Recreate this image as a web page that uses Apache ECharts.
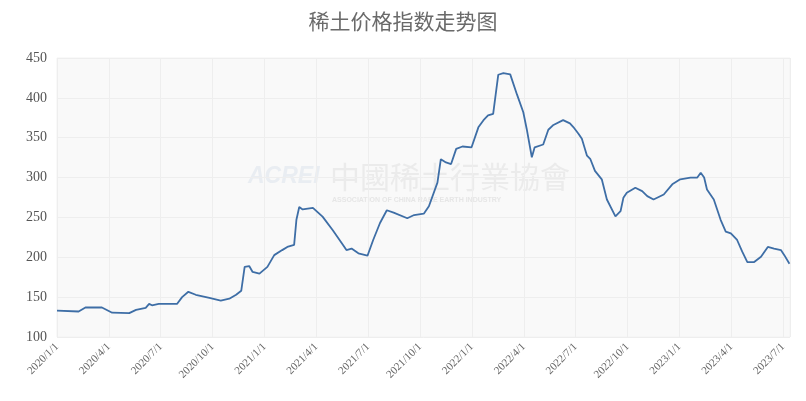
<!DOCTYPE html>
<html>
<head>
<meta charset="utf-8">
<script src="https://cdn.jsdelivr.net/npm/echarts@6/dist/echarts.min.js"></script>
<style>
html,body{margin:0;padding:0;background:#fff;}
#c{width:806px;height:401px;}
</style>
</head>
<body>
<div id="c"></div>
<script>
var titleText = '稀土价格指数走势图';
var tickLabels = ['2020/1/1','2020/4/1','2020/7/1','2020/10/1','2021/1/1','2021/4/1','2021/7/1','2021/10/1','2022/1/1','2022/4/1','2022/7/1','2022/10/1','2023/1/1','2023/4/1','2023/7/1'];
var dates = ['2020/1/1','2020/2/8','2020/2/20','2020/3/20','2020/4/7','2020/5/7','2020/5/19','2020/6/5','2020/6/11','2020/6/16','2020/6/28','2020/7/30','2020/8/8','2020/8/19','2020/9/1','2020/9/25','2020/10/15','2020/10/30','2020/11/11','2020/11/20','2020/11/26','2020/12/4','2020/12/10','2020/12/22','2021/1/5','2021/1/17','2021/1/31','2021/2/9','2021/2/21','2021/2/25','2021/3/2','2021/3/8','2021/3/26','2021/4/12','2021/4/30','2021/5/18','2021/5/24','2021/6/2','2021/6/14','2021/6/30','2021/7/10','2021/7/22','2021/8/3','2021/8/15','2021/9/8','2021/9/20','2021/10/7','2021/10/16','2021/10/31','2021/11/6','2021/11/15','2021/11/24','2021/12/3','2021/12/14','2021/12/30','2022/1/11','2022/1/20','2022/1/28','2022/2/6','2022/2/15','2022/2/24','2022/3/8','2022/3/20','2022/3/31','2022/4/6','2022/4/15','2022/4/20','2022/5/5','2022/5/14','2022/5/23','2022/6/9','2022/6/21','2022/6/27','2022/7/6','2022/7/12','2022/7/21','2022/7/27','2022/8/4','2022/8/16','2022/8/25','2022/9/9','2022/9/18','2022/9/23','2022/9/29','2022/10/14','2022/10/26','2022/11/4','2022/11/15','2022/12/3','2022/12/18','2023/1/1','2023/1/19','2023/1/31','2023/2/6','2023/2/12','2023/2/17','2023/3/1','2023/3/13','2023/3/22','2023/3/31','2023/4/11','2023/4/20','2023/4/29','2023/5/11','2023/5/23','2023/6/4','2023/6/15','2023/6/27','2023/7/3','2023/7/12'];
var values = [133,132,137,137,130.5,130,134,136.6,141.5,139.8,141.5,141.5,150,156.7,153,149,145.7,148,153,158,188,189,181.6,179.5,188,202.7,209,213,215.5,247,263,260,262,251,234,215.5,209,211,205,202,221.7,243,259,256,249,253,254.7,264,293.6,323,319,317,336,339,338,363,372,378,380,429,431,429.5,404,382,361,325.5,338,341.5,360,366,372,368,363.4,355,348.6,327.4,323,308.4,297.8,272.5,251.3,257.8,274.6,281,287.3,283,276.7,272.5,278.8,291.5,297.8,300,300,306,300,285,272.5,247,232.3,230,221.7,207,194,194,200.6,213,211,209,202.7,192];
var yTicks = [100,150,200,250,300,350,400,450];
var xStart = '2020/1/1', xEnd = '2023/7/13';

function dayOf(s){ var p = s.split('/'); var b = xStart.split('/');
  return Math.round((Date.UTC(+p[0], +p[1]-1, +p[2]) - Date.UTC(+b[0], +b[1]-1, +b[2])) / 86400000); }

var tickDays = tickLabels.map(dayOf);
var quarter = tickDays[tickDays.length-1] / (tickDays.length-1);
var seriesData = dates.map(function(d,i){ return [dayOf(d), values[i]]; });

var chart = echarts.init(document.getElementById('c'), null, {renderer:'canvas'});
chart.setOption({
  backgroundColor:'#ffffff',
  animation:false,
  title:{
    text:titleText, left:'center', top:6,
    textStyle:{fontFamily:'Noto Sans CJK SC', fontSize:21, fontWeight:'normal', color:'#6a6a6a'}
  },
  grid:{left:57, right:16, top:58, bottom:64, show:true, backgroundColor:'#f9f9f9', borderColor:'#f3f3f3', borderWidth:1},
  graphic:[
    {type:'text', left:248, top:165, silent:true, style:{text:'ACREI', font:'italic bold 23px "Liberation Sans"', fill:'#e9edf2'}},
    {type:'text', left:330, top:162, silent:true, style:{text:'中國稀土行業協會', font:'30px "Noto Sans CJK TC"', fill:'#ebebeb'}},
    {type:'text', left:332, top:197, silent:true, style:{text:'ASSOCIATION OF CHINA RARE EARTH INDUSTRY', font:'bold 7px "Liberation Sans"', fill:'#e6e6e6'}}
  ],
  xAxis:{
    type:'value', min:0, max:dayOf(xEnd), interval:quarter,
    axisLine:{show:false}, axisTick:{show:false},
    axisLabel:{rotate:45, showMaxLabel:false, color:'#666', fontFamily:'Liberation Serif', fontSize:11, margin:8,
      formatter:function(v){ var k = Math.round(v/quarter); return (Math.abs(v - k*quarter) < 1 && tickLabels[k]) ? tickLabels[k] : ''; }},
    splitLine:{show:true, lineStyle:{color:'#eeeeee', width:1}}
  },
  yAxis:{
    type:'value', min:yTicks[0], max:yTicks[yTicks.length-1], interval:50,
    axisLine:{show:false}, axisTick:{show:false},
    axisLabel:{color:'#555', fontFamily:'Liberation Serif', fontSize:14, margin:10},
    splitLine:{show:true, lineStyle:{color:'#eeeeee', width:1}}
  },
  series:[{
    type:'line', data:seriesData, showSymbol:false, symbol:'none',
    lineStyle:{color:'#3e6ea6', width:1.8}, itemStyle:{color:'#3e6ea6'}
  }]
});
</script>
</body>
</html>
